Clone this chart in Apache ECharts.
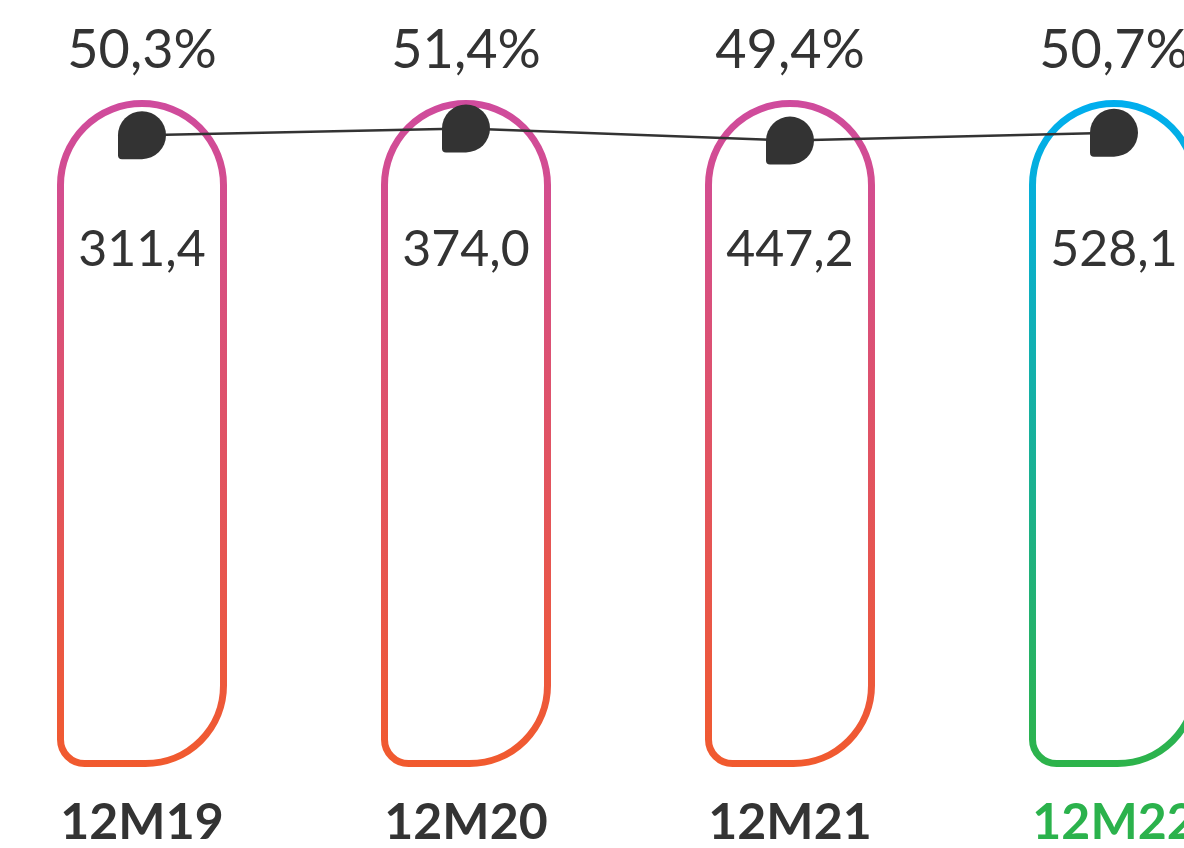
<!DOCTYPE html>
<html>
<head>
<meta charset="utf-8">
<script src="https://cdn.jsdelivr.net/npm/echarts@6/dist/echarts.min.js"></script>
<style>
html,body{margin:0;padding:0;background:#fff;overflow:hidden;width:1184px;height:848px;}
#c{position:absolute;left:-20px;top:0;width:1296px;height:848px;}
</style>
</head>
<body>
<div id="c"></div>
<script>
// ---- data ----
const categories = ['12M19', '12M20', '12M21', '12M22'];
const totals = [311.4, 374.0, 447.2, 528.1];
const shares = [50.3, 51.4, 49.4, 50.7];
const trackHeight = [100, 100, 100, 100]; // all capsules are drawn the same height
const highlightIndex = 3;

const fmt = (v, d) => v.toFixed(d).replace('.', ',');
const FONT = 'Lato, sans-serif';
const DARK = '#333333';

function grad(top, bottom) {
  return new echarts.graphic.LinearGradient(0, 0, 0, 1, [
    { offset: 0, color: top }, { offset: 1, color: bottom }
  ]);
}

const chart = echarts.init(document.getElementById('c'), null, { renderer: 'canvas' });

const barData = trackHeight.map((v, i) => ({
  value: v,
  itemStyle: {
    borderColor: i === highlightIndex ? grad('#00AEEF', '#2DB34A') : grad('#CF4B9D', '#F15A2E')
  }
}));

const marker = 'path://M24,0 A24,24 0 0 1 48,24 A24,24 0 0 1 24,48 L4,48 A4,4 0 0 1 0,44 L0,24 A24,24 0 0 1 24,0 Z';

chart.setOption({
  animation: false,
  grid: { left: 0, right: 0, top: 100, bottom: 75, containLabel: false },
  xAxis: [
    {
      type: 'category', data: categories, position: 'bottom',
      axisLine: { show: false }, axisTick: { show: false },
      axisLabel: {
        margin: 31, fontFamily: FONT, fontWeight: 'bold', fontSize: 50,
        color: (v, i) => (i === highlightIndex ? '#2BB24C' : DARK)
      }
    },
    {
      type: 'category', data: categories, position: 'top',
      axisLine: { show: false }, axisTick: { show: false },
      axisLabel: {
        margin: 22, fontFamily: FONT, fontSize: 54, color: DARK,
        formatter: (v, i) => fmt(shares[i], 1) + '%'
      }
    }
  ],
  yAxis: [
    { type: 'value', min: 0, max: 100, show: false },
    { type: 'value', min: -53.3, max: 56.06, show: false }
  ],
  series: [
    {
      type: 'bar', xAxisIndex: 0, yAxisIndex: 0, data: barData, barWidth: 170,
      itemStyle: { color: 'rgba(255,255,255,0)', borderWidth: 7, borderRadius: [84, 84, 78, 24] },
      label: {
        show: true, position: ['50%', 150], align: 'center', verticalAlign: 'middle',
        fontFamily: FONT, fontSize: 50, color: DARK,
        formatter: p => fmt(totals[p.dataIndex], 1)
      },
      silent: true, z: 1
    },
    {
      type: 'line', xAxisIndex: 0, yAxisIndex: 1, data: shares,
      lineStyle: { color: DARK, width: 2.5 },
      itemStyle: { color: DARK },
      symbol: marker, symbolSize: 48, symbolKeepAspect: true,
      z: 3, silent: true
    }
  ]
});
</script>
</body>
</html>
